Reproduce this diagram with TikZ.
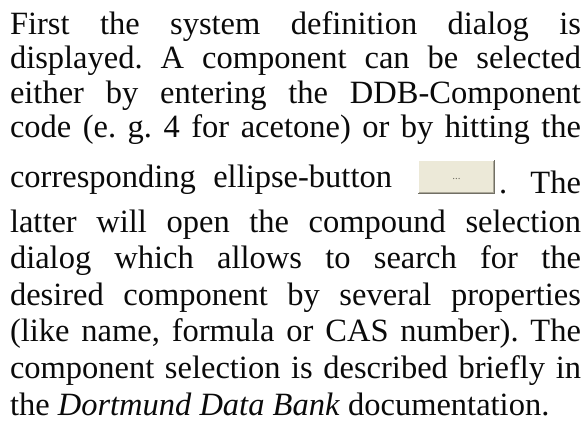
\documentclass[tikz,border=0pt]{standalone}
\usepackage{fontspec}
\setmainfont{Liberation Serif}
\frenchspacing
\definecolor{btnface}{HTML}{ECE9D8}
\definecolor{btnshade}{HTML}{ACA899}
\definecolor{btndark}{HTML}{716F64}
\definecolor{inktext}{HTML}{0A0A0A}
% one line of justified text, stretched to the full column width
\newcommand\jline[1]{\hbox to 571pt{#1}}
\tikzset{
  txt/.style={anchor=base west, inner sep=0pt, outer sep=0pt, text=inktext,
              font=\fontsize{32.5}{37}\selectfont},
  txtr/.style={txt, anchor=base east},
  btn/.style={draw=none, fill=btnface, inner sep=0pt, minimum width=77pt,
              minimum height=34pt, font=\fontsize{11}{11}\selectfont, text=btndark}
}
\begin{document}
\begin{tikzpicture}[x=1pt,y=1pt]
  \useasboundingbox (0,0) rectangle (585,-425);
  \node[txt] (l1) at (10,-35)  {\jline{First the system definition dialog is}};
  \node[txt] (l2) at (10,-69)  {\jline{displayed. A component can be selected}};
  \node[txt] (l3) at (10,-103) {\jline{either by entering the DDB-Component}};
  \node[txt] (l4) at (10,-137) {\jline{code (e. g. 4 for acetone) or by hitting the}};
  % line with the inline ellipse button
  \node[txt] (l5a) at (10,-187) {\hbox to 382pt{corresponding ellipse-button}};
  \node[btn] (btn) at (456.5,-177) {\raisebox{-5pt}{...}};
  % button bevel: light top/left edge, dark bottom/right edge
  \draw[white, line width=1pt]
    ([xshift=0.5pt,yshift=0.5pt]btn.south west) -- ([xshift=0.5pt,yshift=-0.5pt]btn.north west)
    -- ([xshift=-0.5pt,yshift=-0.5pt]btn.north east);
  \draw[btnshade, line width=1pt]
    ([xshift=1pt,yshift=1.5pt]btn.south west) -- ([xshift=-1.5pt,yshift=1.5pt]btn.south east)
    -- ([xshift=-1.5pt,yshift=-1pt]btn.north east);
  \draw[btndark, line width=1.4pt]
    ([xshift=0pt,yshift=0.7pt]btn.south west) -- ([xshift=-0.7pt,yshift=0.7pt]btn.south east)
    -- ([xshift=-0.7pt,yshift=0pt]btn.north east);
  \node[txt] (dot) at (499,-193) {.};
  \node[txtr] (l5b) at (581,-193) {The};
  \node[txt] (l6)  at (10,-232)   {\jline{latter will open the compound selection}};
  \node[txt] (l7)  at (10,-268.6) {\jline{dialog which allows to search for the}};
  \node[txt] (l8)  at (10,-305.2) {\jline{desired component by several properties}};
  \node[txt] (l9)  at (10,-341.8) {\jline{(like name, formula or CAS number). The}};
  \node[txt] (l10) at (10,-378.4) {\jline{component selection is described briefly in}};
  \node[txt] (l11) at (10,-415)   {the \textit{Dortmund Data Bank} documentation.};
\end{tikzpicture}
\end{document}
